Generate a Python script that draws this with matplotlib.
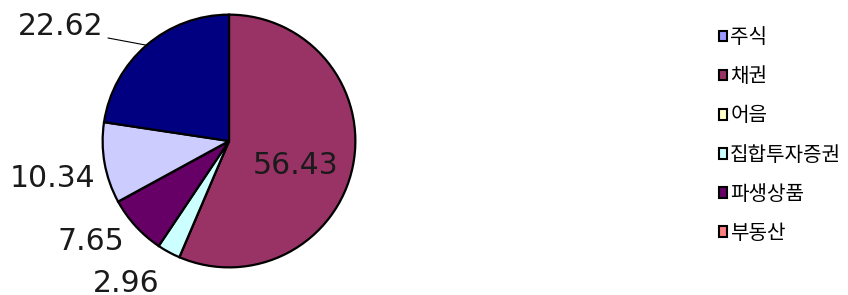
import matplotlib
matplotlib.use("Agg")
import matplotlib.pyplot as plt
from matplotlib.patches import Patch
import numpy as np

# === Data ===
legend_labels = ["주식", "채권", "어음", "집합투자증권", "파생상품", "부동산"]
values = [0.0, 56.43, 0.0, 2.96, 7.65, 0.0, 0.0, 10.34, 22.62]
colors = ["#9999FF", "#993366", "#FFFFCC", "#CCFFFF", "#660066",
          "#FF8080", "#0066CC", "#CCCCFF", "#000080"]

# label placement (distance from centre, angle tweak in degrees) per slice
label_pos = {1: (0.56, -9), 3: (1.39, -7.5), 4: (1.35, -6.5), 7: (1.43, 2), 8: (1.61, 15)}

plt.rcParams["font.family"] = ["Noto Sans CJK KR", "DejaVu Sans"]

fig = plt.figure(figsize=(8.48, 2.95), dpi=100)
cx, cy, r = 229, 141, 127
ax = fig.add_axes([(cx - r) / 848, (295 - cy - r) / 295, 2 * r / 848, 2 * r / 295])

wedges, _ = ax.pie(values, colors=colors, startangle=90, counterclock=False,
                   radius=1.0,
                   wedgeprops=dict(edgecolor="black", linewidth=1.6))
ax.set_xlim(-1.005, 1.005)
ax.set_ylim(-1.005, 1.005)
ax.set_aspect("equal")
ax.axis("off")

for i, (dist, tweak) in label_pos.items():
    w = wedges[i]
    mid = np.deg2rad((w.theta1 + w.theta2) / 2)
    ang = mid + np.deg2rad(tweak)
    tx, ty = dist * np.cos(ang), dist * np.sin(ang)
    txt = f"{values[i]:.2f}"
    if i == 8:
        ax.annotate(txt, xy=(np.cos(mid), np.sin(mid)), xytext=(tx, ty),
                    ha="center", va="center", fontsize=21.5, family="DejaVu Sans",
                    color="#1a1a1a",
                    arrowprops=dict(arrowstyle="-", color="black", lw=0.8,
                                    shrinkA=0, shrinkB=0, relpos=(1.05, 0.1)),
                    annotation_clip=False)
    else:
        ax.text(tx, ty, txt, ha="center", va="center", fontsize=21.5,
                family="DejaVu Sans", color="#1a1a1a", clip_on=False)

handles = [Patch(facecolor=c, edgecolor="black", linewidth=1.5) for c in colors[:6]]
fig.legend(handles, legend_labels, loc="upper left", bbox_to_anchor=(0.838, 0.935),
           frameon=False, fontsize=14.5, handlelength=0.42, handleheight=0.42,
           handletextpad=0.15, labelspacing=0.9, borderaxespad=0)

fig.savefig("out.png", dpi=100)
